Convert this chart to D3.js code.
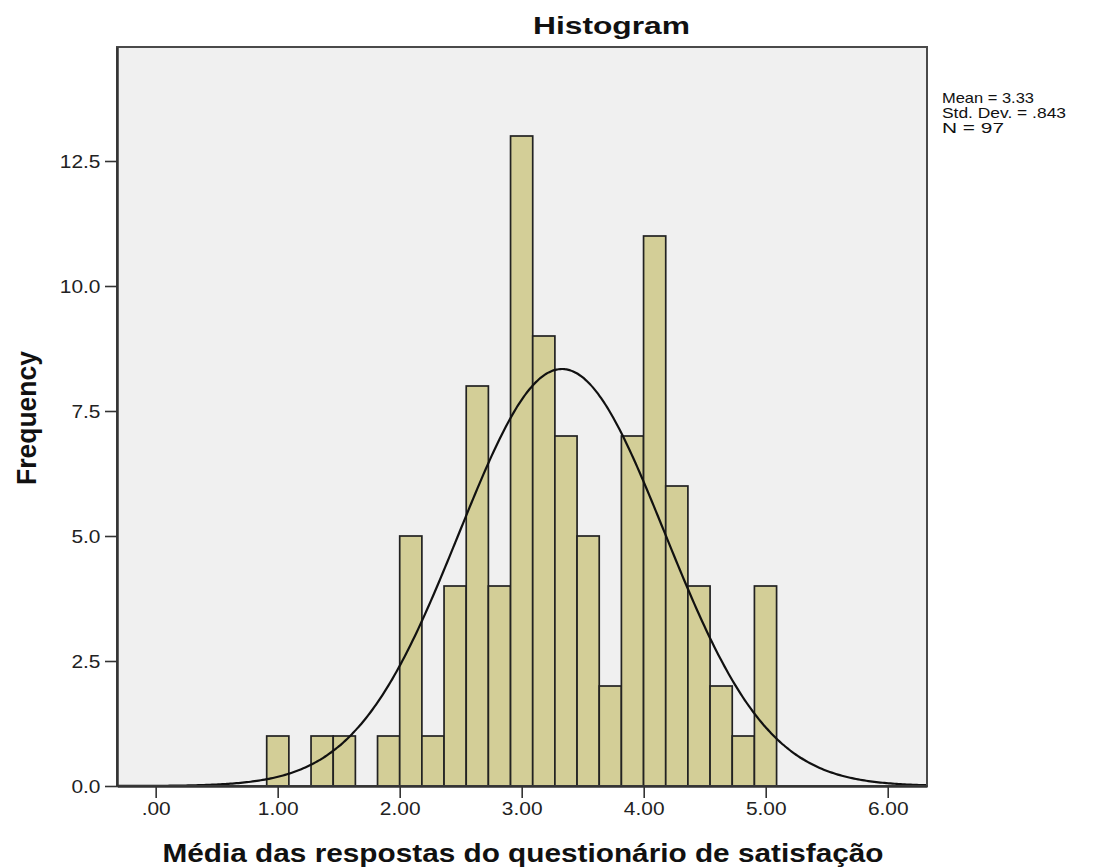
<!DOCTYPE html>
<html>
<head>
<meta charset="utf-8">
<script src="https://cdn.jsdelivr.net/npm/d3@7/dist/d3.min.js"></script>
<style>
  html, body { margin: 0; padding: 0; background: #ffffff; }
  svg { display: block; }
  text { font-family: "Liberation Sans", Arial, sans-serif; }
</style>
</head>
<body>
<svg id="chart" width="1101" height="867"></svg>
<script>
// Histogram bins: first lower edge, bin width and the frequency in each bin
const binStart = 0.91;
const binWidth = 0.1817;
const counts = [1, 0, 1, 1, 0, 1, 5, 1, 4, 8, 4, 13, 9, 7, 5, 2, 7, 11, 6, 4, 2, 1, 4];

// Summary statistics used for the fitted normal curve
const statMean = 3.33;
const statSD = 0.843;
const statN = 97;
const statLines = ["Mean = 3.33", "Std. Dev. = .843", "N = 97"];
const statWidths = [92, 124, 62];

// Axis ticks
const xTicks = [0, 1, 2, 3, 4, 5, 6];
const yTicks = [0, 2.5, 5, 7.5, 10, 12.5];

const titleText = "Histogram";
const xLabel = "Média das respostas do questionário de satisfação";
const yLabel = "Frequency";

const svg = d3.select("#chart");
const plot = { left: 117, right: 927, top: 47, bottom: 786 };

const x = d3.scaleLinear().domain([-0.317, 6.322]).range([plot.left, plot.right]);
const y = d3.scaleLinear().domain([0, 14.78]).range([plot.bottom, plot.top]);

// plot background
svg.append("rect")
  .attr("x", plot.left).attr("y", plot.top)
  .attr("width", plot.right - plot.left).attr("height", plot.bottom - plot.top)
  .attr("fill", "#f0f0f0");

// bars
const bins = counts.map((c, i) => ({ x0: binStart + i * binWidth, x1: binStart + (i + 1) * binWidth, n: c }));
svg.append("g").selectAll("rect")
  .data(bins.filter(d => d.n > 0))
  .join("rect")
  .attr("x", d => x(d.x0))
  .attr("y", d => y(d.n))
  .attr("width", d => x(d.x1) - x(d.x0))
  .attr("height", d => y(0) - y(d.n))
  .attr("fill", "#d3ce97")
  .attr("stroke", "#222")
  .attr("stroke-width", 1.7);

// normal curve scaled to counts
const dens = v => statN * binWidth / (statSD * Math.sqrt(2 * Math.PI)) *
  Math.exp(-0.5 * Math.pow((v - statMean) / statSD, 2));
const xs = d3.range(0, 401).map(i => x.domain()[0] + (x.domain()[1] - x.domain()[0]) * i / 400);
svg.append("path")
  .datum(xs)
  .attr("fill", "none")
  .attr("stroke", "#111")
  .attr("stroke-width", 2.2)
  .attr("d", d3.line().x(v => x(v)).y(v => y(dens(v))).curve(d3.curveBasis));

// frame
svg.append("rect")
  .attr("x", plot.left).attr("y", plot.top)
  .attr("width", plot.right - plot.left).attr("height", plot.bottom - plot.top)
  .attr("fill", "none")
  .attr("stroke", "#4a4a4a")
  .attr("stroke-width", 2);

// y axis
const yAxis = svg.append("g")
  .attr("transform", `translate(${plot.left},0)`)
  .call(d3.axisLeft(y).tickValues(yTicks).tickFormat(d3.format(".1f"))
    .tickSizeInner(12).tickSizeOuter(0).tickPadding(3));
yAxis.select(".domain").attr("stroke", "#333").attr("stroke-width", 2.5);
yAxis.selectAll(".tick line").attr("stroke", "#333").attr("stroke-width", 1.6);
yAxis.selectAll(".tick text")
  .attr("font-size", 19).attr("fill", "#222")
  .attr("font-family", "'Liberation Sans', Arial, sans-serif")
  .attr("transform", "scale(1.1,1)");

// x axis
const xFmt = v => d3.format(".2f")(v).replace(/^0\./, ".");
const xAxis = svg.append("g")
  .attr("transform", `translate(0,${plot.bottom})`)
  .call(d3.axisBottom(x).tickValues(xTicks).tickFormat(xFmt)
    .tickSizeInner(12).tickSizeOuter(0).tickPadding(4));
xAxis.select(".domain").attr("stroke", "#333").attr("stroke-width", 2.5);
xAxis.selectAll(".tick line").attr("stroke", "#333").attr("stroke-width", 1.6);
xAxis.selectAll(".tick text")
  .attr("font-size", 19).attr("fill", "#222")
  .attr("font-family", "'Liberation Sans', Arial, sans-serif");
xAxis.selectAll(".tick text").each(function () {
  const w = this.getComputedTextLength();
  d3.select(this).attr("textLength", w * 1.1).attr("lengthAdjust", "spacingAndGlyphs");
});

// title and axis labels
svg.append("text")
  .attr("x", 611.5).attr("y", 34)
  .attr("text-anchor", "middle")
  .attr("font-size", 24).attr("font-weight", "bold").attr("fill", "#111")
  .attr("textLength", 157).attr("lengthAdjust", "spacingAndGlyphs")
  .text(titleText);

svg.append("text")
  .attr("x", 523).attr("y", 862)
  .attr("text-anchor", "middle")
  .attr("font-size", 26).attr("font-weight", "bold").attr("fill", "#111")
  .attr("textLength", 721).attr("lengthAdjust", "spacingAndGlyphs")
  .text(xLabel);

svg.append("text")
  .attr("transform", "translate(36,418) rotate(-90)")
  .attr("text-anchor", "middle")
  .attr("font-size", 28).attr("font-weight", "bold").attr("fill", "#111")
  .attr("textLength", 134).attr("lengthAdjust", "spacingAndGlyphs")
  .text(yLabel);

// statistics block
svg.append("g").selectAll("text")
  .data(statLines)
  .join("text")
  .attr("x", 942)
  .attr("y", (d, i) => 103 + i * 15)
  .attr("font-size", 14.5).attr("fill", "#111")
  .attr("textLength", (d, i) => statWidths[i]).attr("lengthAdjust", "spacingAndGlyphs")
  .text(d => d);
</script>
</body>
</html>
